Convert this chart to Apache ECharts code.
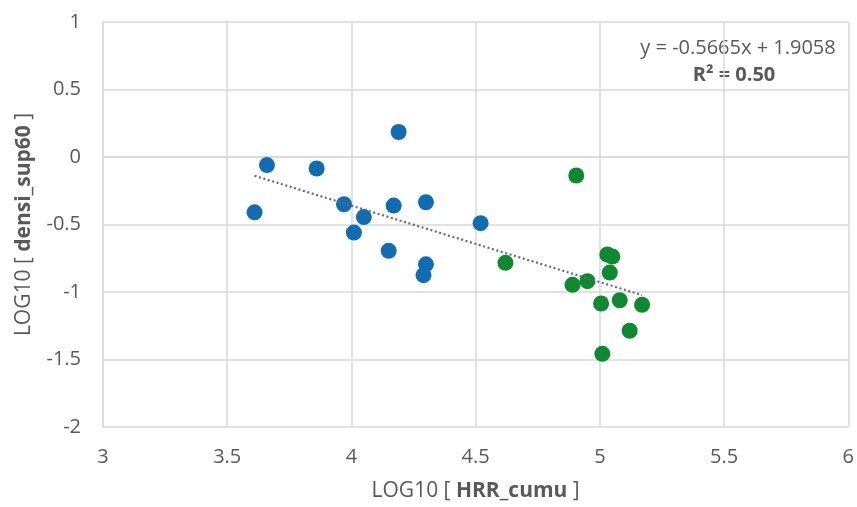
<!DOCTYPE html>
<html>
<head>
<meta charset="utf-8">
<script src="https://cdn.jsdelivr.net/npm/echarts@6/dist/echarts.min.js"></script>
<style>
html,body{margin:0;padding:0;background:#fff;}
#c{width:857px;height:507px;}
</style>
</head>
<body>
<div id="c"></div>
<script>
// Group 1 (blue)
const blueX = [3.61, 3.66, 3.86, 3.97, 4.01, 4.05, 4.15, 4.17, 4.19, 4.30, 4.30, 4.29, 4.52];
const blueY = [-0.41, -0.06, -0.085, -0.35, -0.56, -0.445, -0.695, -0.36, 0.185, -0.335, -0.795, -0.875, -0.49];
// Group 2 (green)
const greenX = [4.905, 4.62, 5.03, 5.05, 5.04, 4.95, 4.89, 5.005, 5.08, 5.17, 5.12, 5.01];
const greenY = [-0.137, -0.784, -0.722, -0.737, -0.856, -0.92, -0.947, -1.085, -1.061, -1.095, -1.287, -1.458];
// Trend line coefficients (as printed)
const slope = -0.5665;
const intercept = 1.9058;
const r2Label = "0.50";
const xTicks = [3, 3.5, 4, 4.5, 5, 5.5, 6];
const yTicks = [-2, -1.5, -1, -0.5, 0, 0.5, 1];

const allX = blueX.concat(greenX);
const xMin = Math.min(...allX), xMax = Math.max(...allX);
const trend = [[xMin, slope * xMin + intercept], [xMax, slope * xMax + intercept]];

const FONT = '"Open Sans", sans-serif';
const GREY = '#595959';

const chart = echarts.init(document.getElementById('c'), null, {renderer: 'canvas'});
chart.setOption({
  animation: false,
  backgroundColor: '#fff',
  textStyle: {fontFamily: FONT},
  grid: {left: 103, right: 7, top: 22, bottom: 79, containLabel: false},
  xAxis: {
    type: 'value', min: xTicks[0], max: xTicks[xTicks.length - 1], interval: 0.5,
    axisLine: {show: true, lineStyle: {color: '#d9d9d9', width: 1.5}},
    axisTick: {show: false},
    splitLine: {show: true, lineStyle: {color: '#d9d9d9', width: 1.5}},
    axisLabel: {color: GREY, fontSize: 20, fontFamily: FONT, margin: 20},
    name: '{n|LOG10 [ }{b|HRR_cumu}{n| ]}',
    nameLocation: 'middle', nameGap: 54,
    nameTextStyle: {
      rich: {
        n: {fontSize: 21, color: GREY, fontFamily: FONT},
        b: {fontSize: 21, color: GREY, fontFamily: FONT, fontWeight: 'bold'}
      }
    }
  },
  yAxis: {
    type: 'value', min: yTicks[0], max: yTicks[yTicks.length - 1], interval: 0.5,
    axisLine: {show: true, lineStyle: {color: '#d9d9d9', width: 1.5}},
    axisTick: {show: false},
    splitLine: {show: true, lineStyle: {color: '#d9d9d9', width: 1.5}},
    axisLabel: {color: GREY, fontSize: 20, fontFamily: FONT, margin: 22},
    name: '{n|LOG10 [ }{b|densi_sup60}{n| ]}',
    nameLocation: 'middle', nameGap: 68, nameRotate: 90,
    nameTextStyle: {
      rich: {
        n: {fontSize: 21, color: GREY, fontFamily: FONT},
        b: {fontSize: 21, color: GREY, fontFamily: FONT, fontWeight: 'bold'}
      }
    }
  },
  series: [
    {
      type: 'line', data: trend, symbol: 'none', silent: true, z: 3,
      lineStyle: {color: '#6b6b6b', width: 2.2, type: [2, 2.6]}
    },
    {
      type: 'scatter', data: blueX.map((x, i) => [x, blueY[i]]),
      symbolSize: 16, itemStyle: {color: '#0F6DB4', opacity: 1}, z: 2
    },
    {
      type: 'scatter', data: greenX.map((x, i) => [x, greenY[i]]),
      symbolSize: 16, itemStyle: {color: '#0C8A30', opacity: 1}, z: 2
    }
  ],
  graphic: [
    {
      type: 'text', x: 738, y: 48,
      style: {
        text: 'y = -0.5665x + 1.9058',
        font: '20px ' + FONT, fill: GREY, textAlign: 'center', textVerticalAlign: 'middle'
      }
    },
    {
      type: 'text', x: 734, y: 75,
      style: {
        text: 'R² = ' + r2Label,
        font: 'bold 20px ' + FONT, fill: GREY, textAlign: 'center', textVerticalAlign: 'middle'
      }
    }
  ]
});
</script>
</body>
</html>
